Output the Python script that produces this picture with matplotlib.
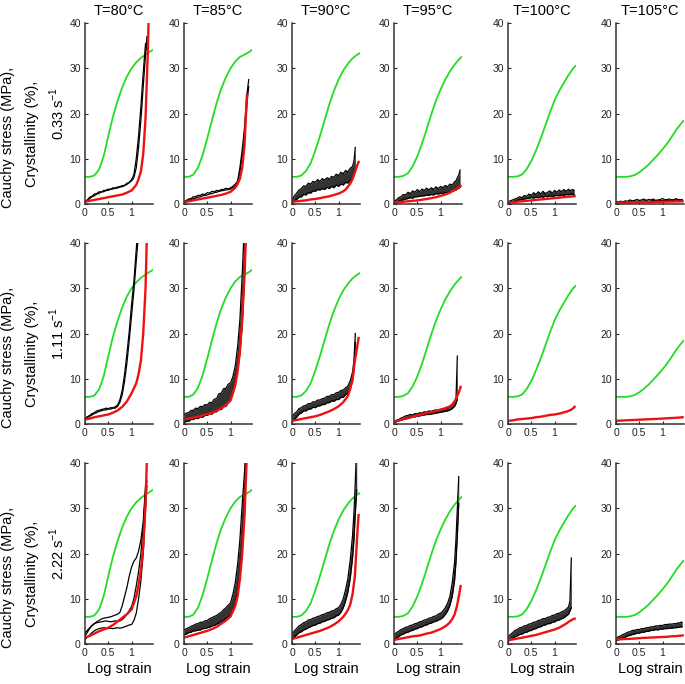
import matplotlib
matplotlib.use('Agg')
from matplotlib import pyplot as plt

nan = float('nan')

plt.rcParams['font.family'] = ['Liberation Sans', 'DejaVu Sans']
plt.rcParams['mathtext.fontset'] = 'custom'
plt.rcParams['mathtext.rm'] = 'Liberation Sans'

# temperatures (columns) and strain rates (rows)
temperatures = [80, 85, 90, 95, 100, 105]
rates = ['0.33', '1.11', '2.22']

# crystallinity (%), green, one per temperature
green_strain = [0, 0.1, 0.2, 0.3, 0.4, 0.5, 0.6, 0.7, 0.8, 0.9, 1.0, 1.1, 1.2, 1.3, 1.4, 1.45]
cryst_80 = [6.0, 6.0, 6.3, 7.6, 10.5, 15.0, 19.3, 22.8, 25.8, 28.2, 30.0, 31.3, 32.3, 33.0, 33.7, 34.0]
cryst_85 = [6.0, 6.0, 6.5, 8.0, 10.8, 14.5, 18.5, 22.3, 25.5, 28.0, 30.0, 31.5, 32.5, 33.0, 33.6, 34.0]
cryst_90 = [6.0, 6.0, 6.3, 7.3, 9.0, 11.8, 15.0, 18.5, 22.0, 25.0, 27.5, 29.5, 31.0, 32.2, 33.0, 33.3]
cryst_95 = [6.0, 6.0, 6.2, 6.8, 8.3, 10.5, 13.3, 16.5, 19.8, 22.8, 25.3, 27.5, 29.3, 30.8, 32.0, 32.5]
cryst_100 = [6.0, 6.0, 6.1, 6.5, 7.7, 9.5, 11.8, 14.4, 17.3, 20.2, 22.9, 25.0, 26.8, 28.5, 30.0, 30.5]
cryst_105 = [6.0, 6.0, 6.0, 6.1, 6.4, 7.0, 7.8, 8.7, 9.8, 10.9, 12.1, 13.4, 14.9, 16.5, 17.8, 18.4]
crystallinity = [cryst_80, cryst_85, cryst_90, cryst_95, cryst_100, cryst_105]

# model Cauchy stress (MPa), red
model_strain = [0, 0.1, 0.2, 0.3, 0.4, 0.5, 0.6, 0.7, 0.8, 0.9, 1.0, 1.1, 1.15, 1.2, 1.25, 1.3, 1.35, 1.4, 1.43]
model_033 = [
    [0.5, 0.7, 0.9, 1.1, 1.3, 1.5, 1.7, 1.9, 2.1, 2.5, 3.0, 4.2, 5.5, 7.2, 11.0, 19.0, 34.0, 55.0, nan],
    [0.4, 0.6, 0.8, 1.0, 1.2, 1.4, 1.6, 1.8, 2.0, 2.3, 2.7, 3.6, 4.4, 5.6, 8.0, 13.0, 24.0, nan, nan],
    [0.5, 0.6, 0.7, 0.8, 1.0, 1.1, 1.3, 1.5, 1.7, 2.0, 2.3, 2.8, 3.2, 3.8, 4.5, 5.5, 7.0, 8.5, 9.3],
    [0.3, 0.4, 0.5, 0.6, 0.7, 0.8, 0.95, 1.1, 1.3, 1.5, 1.8, 2.1, 2.3, 2.5, 2.8, 3.1, 3.4, 3.8, 4.0],
    [0.3, 0.4, 0.5, 0.6, 0.7, 0.8, 0.9, 1.0, 1.1, 1.2, 1.3, 1.4, 1.45, 1.5, 1.55, 1.6, 1.65, 1.7, 1.75],
    [0.3, 0.32, 0.34, 0.36, 0.38, 0.4, 0.42, 0.44, 0.46, 0.48, 0.5, 0.52, 0.53, 0.54, 0.55, 0.56, 0.57, 0.58, 0.59],
]
model_111 = [
    [1.0, 1.2, 1.5, 1.7, 1.9, 2.1, 2.5, 3.0, 3.8, 5.0, 6.8, 9.0, 11.0, 14.0, 20.0, 30.0, 50.0, nan, nan],
    [1.0, 1.2, 1.4, 1.6, 1.9, 2.2, 2.5, 2.9, 3.5, 4.2, 5.2, 8.5, 11.5, 16.0, 23.0, 33.0, 48.0, nan, nan],
    [0.7, 0.9, 1.1, 1.3, 1.5, 1.7, 2.0, 2.4, 2.8, 3.3, 3.9, 4.8, 5.5, 6.2, 7.8, 9.8, 14.0, 17.0, 19.0],
    [0.5, 0.8, 1.1, 1.3, 1.6, 1.9, 2.1, 2.4, 2.6, 2.9, 3.2, 3.5, 3.7, 3.9, 4.3, 5.0, 6.0, 7.2, 8.2],
    [0.7, 0.8, 1.0, 1.1, 1.2, 1.3, 1.5, 1.6, 1.8, 2.0, 2.1, 2.3, 2.4, 2.6, 2.7, 2.9, 3.1, 3.5, 3.8],
    [0.7, 0.75, 0.8, 0.85, 0.9, 0.95, 1.0, 1.05, 1.1, 1.15, 1.2, 1.25, 1.3, 1.32, 1.35, 1.38, 1.42, 1.46, 1.5],
]
model_222 = [
    [1.4, 1.8, 2.3, 2.8, 3.2, 3.6, 4.2, 5.0, 5.8, 6.6, 7.6, 10.5, 13.0, 16.4, 21.5, 31.0, 48.0, nan, nan],
    [1.4, 1.7, 2.0, 2.3, 2.6, 2.9, 3.3, 3.8, 4.5, 5.2, 6.1, 8.4, 10.5, 14.3, 20.0, 28.5, 42.0, nan, nan],
    [1.1, 1.4, 1.7, 2.0, 2.3, 2.6, 2.9, 3.3, 3.7, 4.3, 5.0, 6.0, 6.7, 7.5, 8.7, 11.0, 15.0, 24.0, 28.5],
    [0.9, 1.1, 1.3, 1.5, 1.7, 1.8, 2.0, 2.3, 2.5, 2.9, 3.3, 3.9, 4.3, 4.8, 5.5, 6.5, 8.3, 11.0, 12.8],
    [0.9, 1.0, 1.2, 1.4, 1.6, 1.8, 2.0, 2.3, 2.6, 2.9, 3.2, 3.6, 3.9, 4.2, 4.5, 4.9, 5.2, 5.5, 5.6],
    [1.0, 1.05, 1.1, 1.15, 1.2, 1.3, 1.35, 1.4, 1.45, 1.5, 1.55, 1.6, 1.65, 1.7, 1.72, 1.75, 1.8, 1.85, 1.9],
]

# experimental Cauchy stress (MPa), black
exp_strain = [0.00, 0.05, 0.10, 0.15, 0.20, 0.25, 0.30, 0.35, 0.40, 0.45, 0.50, 0.55, 0.60, 0.65, 0.70, 0.75,
              0.80, 0.85, 0.90, 0.95, 1.00, 1.05, 1.10, 1.15, 1.20, 1.25, 1.30, 1.33, 1.36, 1.39, 1.42]
exp_033 = [
    [[0.5, 0.9, 1.5, 1.7, 2.2, 2.3, 2.7, 2.6, 3.0, 2.9, 3.3, 3.2, 3.6, 3.4, 3.8, 3.7, 4.1, 4.0, 4.6, 4.7, 5.4, 6.5, 10.0, 15.0, 21.5, 29.0, 35.5, 34.0, nan, nan, nan],
     [0.4, 0.8, 1.2, 1.6, 1.8, 2.2, 2.3, 2.7, 2.7, 3.1, 3.0, 3.3, 3.3, 3.6, 3.5, 3.9, 3.8, 4.2, 4.3, 4.8, 5.1, 5.8, 8.0, 12.5, 18.5, 26.0, 33.0, 37.0, nan, nan, nan]],
    [[0.5, 0.8, 1.1, 1.2, 1.6, 1.6, 1.9, 1.9, 2.2, 2.1, 2.5, 2.4, 2.8, 2.7, 3.0, 2.9, 3.2, 3.2, 3.5, 3.3, 3.6, 3.9, 4.4, 5.0, 8.0, 12.0, 17.0, 21.5, 25.0, 27.5, nan],
     [0.4, 0.6, 0.8, 1.0, 1.2, 1.3, 1.5, 1.6, 1.8, 1.9, 2.0, 2.2, 2.3, 2.5, 2.6, 2.8, 2.9, 3.0, 3.1, 3.2, 3.3, 3.6, 4.0, 4.6, 7.0, 10.5, 15.0, 19.0, 23.0, 26.0, nan]],
    [[0.8, 1.8, 2.4, 3.1, 3.4, 4.0, 3.9, 4.6, 4.4, 5.0, 4.8, 5.4, 5.0, 5.6, 5.3, 5.8, 5.5, 6.1, 5.9, 6.6, 6.3, 7.0, 6.7, 7.4, 7.1, 7.9, 8.3, 9.5, 12.5, nan, nan],
     [0.3, 0.7, 1.0, 1.5, 1.6, 2.1, 2.0, 2.5, 2.4, 2.9, 2.8, 3.2, 3.1, 3.4, 3.2, 3.7, 3.4, 3.9, 3.6, 4.2, 3.9, 4.4, 4.2, 4.8, 4.6, 5.3, 5.6, 6.4, 7.5, nan, nan]],
    [[0.6, 0.9, 1.4, 1.6, 2.1, 2.0, 2.6, 2.3, 2.9, 2.6, 3.2, 2.7, 3.3, 3.0, 3.5, 3.1, 3.6, 3.2, 3.8, 3.4, 3.9, 3.6, 4.1, 3.8, 4.4, 4.2, 4.9, 5.1, 5.8, 6.4, 7.5],
     [0.2, 0.4, 0.6, 0.8, 0.9, 1.1, 1.2, 1.4, 1.3, 1.6, 1.6, 1.7, 1.8, 1.8, 2.0, 1.9, 2.1, 2.0, 2.3, 2.2, 2.4, 2.3, 2.6, 2.5, 2.7, 2.8, 3.0, 3.1, 3.3, 3.5, 3.7]],
    [[0.5, 0.7, 0.9, 1.1, 1.3, 1.6, 1.4, 1.9, 1.7, 2.2, 1.9, 2.5, 2.1, 2.7, 2.2, 2.8, 2.3, 2.6, 2.9, 2.4, 3.0, 2.6, 3.1, 2.7, 3.2, 2.8, 3.3, 2.9, 3.1, 3.2, 3.0],
     [0.2, 0.3, 0.5, 0.6, 0.8, 0.9, 1.0, 1.1, 1.2, 1.3, 1.4, 1.3, 1.5, 1.4, 1.6, 1.5, 1.7, 1.6, 1.8, 1.7, 1.8, 1.9, 1.8, 2.0, 1.9, 2.1, 2.0, 2.1, 2.2, 2.1, 2.2]],
    [[0.4, 0.5, 0.6, 0.5, 0.7, 0.6, 0.9, 0.7, 0.8, 1.0, 0.8, 0.9, 1.1, 0.8, 1.0, 0.9, 1.1, 0.8, 0.9, 1.0, 1.2, 0.9, 1.0, 1.1, 0.9, 1.0, 1.2, 0.9, 1.0, 0.9, 1.0],
     [0.3, 0.4, 0.4, 0.5, 0.4, 0.5, 0.6, 0.5, 0.6, 0.6, 0.7, 0.6, 0.7, 0.7, 0.6, 0.7, 0.8, 0.7, 0.7, 0.8, 0.7, 0.8, 0.8, 0.7, 0.8, 0.8, 0.9, 0.8, 0.8, 0.9, 0.8]],
]
exp_111 = [
    [[1.3, 1.6, 1.9, 2.3, 2.5, 2.9, 3.0, 3.2, 3.3, 3.5, 3.4, 3.6, 3.6, 3.8, 4.2, 5.4, 7.5, 11.0, 15.5, 20.5, 26.5, 31.5, 38.5, 45.0, nan, nan, nan, nan, nan, nan, nan],
     [1.0, 1.3, 1.7, 2.0, 2.3, 2.5, 2.8, 2.9, 3.1, 3.1, 3.3, 3.3, 3.5, 3.5, 3.9, 4.8, 6.5, 9.5, 13.5, 18.5, 24.0, 29.5, 36.0, 42.0, nan, nan, nan, nan, nan, nan, nan]],
    [[2.0, 2.4, 2.5, 3.0, 3.0, 3.5, 3.4, 3.9, 3.8, 4.3, 4.2, 4.8, 4.7, 5.5, 5.6, 6.7, 6.8, 7.8, 7.9, 8.8, 9.1, 10.5, 12.8, 17.0, 23.0, 33.0, 45.0, nan, nan, nan, nan],
     [0.3, 0.6, 0.6, 1.0, 1.0, 1.3, 1.2, 1.6, 1.5, 1.9, 1.9, 2.3, 2.2, 2.7, 2.7, 3.2, 3.2, 3.8, 3.9, 4.7, 5.3, 6.8, 9.0, 12.0, 15.5, 22.0, 33.0, 42.0, nan, nan, nan]],
    [[1.5, 2.3, 2.7, 3.4, 3.6, 4.0, 4.1, 4.5, 4.5, 4.9, 4.9, 5.3, 5.3, 5.6, 5.7, 6.1, 6.1, 6.5, 6.5, 6.9, 7.0, 7.4, 7.5, 8.0, 8.4, 9.5, 11.5, 14.0, 20.0, nan, nan],
     [0.6, 1.1, 1.5, 2.2, 2.4, 2.9, 2.9, 3.3, 3.3, 3.7, 3.6, 4.0, 4.0, 4.3, 4.3, 4.7, 4.7, 5.1, 5.0, 5.4, 5.4, 5.9, 5.9, 6.5, 6.7, 7.8, 9.5, 12.0, 18.0, nan, nan]],
    [[0.6, 0.8, 1.0, 1.3, 1.5, 1.8, 1.9, 2.1, 2.0, 2.3, 2.2, 2.5, 2.4, 2.7, 2.6, 2.9, 2.8, 3.0, 3.1, 2.9, 3.2, 3.3, 3.4, 3.5, 3.7, 4.0, 4.6, 5.2, 15.0, nan, nan],
     [0.3, 0.5, 0.7, 0.8, 1.0, 1.1, 1.3, 1.4, 1.5, 1.6, 1.7, 1.8, 1.9, 2.0, 2.1, 2.1, 2.2, 2.3, 2.4, 2.5, 2.6, 2.7, 2.8, 2.9, 3.1, 3.4, 3.9, 4.5, 5.5, nan, nan]],
    [],
    [],
]
exp_222 = [
    [[1.7, 2.6, 3.4, 4.0, 4.5, 4.9, 5.2, 5.5, 5.7, 5.8, 5.9, 6.0, 6.2, 6.4, 6.6, 7.0, 8.5, 10.5, 12.5, 15.0, 17.0, 18.3, 19.0, 20.5, 23.0, 27.0, 35.0, nan, nan, nan, nan],
     [2.4, 3.0, 3.6, 4.1, 4.5, 4.7, 4.8, 4.9, 5.0, 5.1, 5.0, 4.9, 5.0, 5.1, 5.0, 5.1, 5.4, 5.9, 6.6, 7.4, 8.3, 10.0, 12.8, 16.0, 20.0, 26.0, 34.0, 36.0, nan, nan, nan],
     [1.0, 1.5, 2.0, 2.5, 2.9, 3.2, 3.4, 3.5, 3.6, 3.5, 3.4, 3.5, 3.4, 3.5, 3.6, 3.5, 3.6, 3.8, 4.0, 4.2, 4.3, 5.2, 6.8, 10.0, 14.0, 20.0, 30.0, 35.0, nan, nan, nan]],
    [[3.0, 3.4, 3.6, 3.9, 4.1, 4.4, 4.5, 4.8, 4.8, 5.1, 5.2, 5.6, 5.8, 6.1, 6.3, 6.7, 7.0, 7.6, 8.0, 8.6, 9.1, 11.0, 13.5, 17.5, 23.0, 31.0, 38.0, 45.0, nan, nan, nan],
     [2.0, 2.2, 2.5, 2.6, 2.9, 2.9, 3.1, 3.1, 3.4, 3.4, 3.6, 3.7, 4.0, 4.1, 4.4, 4.6, 5.0, 5.2, 5.7, 6.0, 6.5, 7.5, 9.0, 11.5, 15.0, 22.0, 32.0, 40.0, nan, nan, nan]],
    [[2.2, 2.9, 3.4, 4.0, 4.3, 4.7, 4.9, 5.3, 5.4, 5.7, 5.8, 6.1, 6.2, 6.5, 6.6, 6.9, 7.0, 7.3, 7.4, 7.8, 8.0, 8.8, 10.0, 12.0, 14.5, 18.5, 24.0, 29.0, 36.0, 45.0, nan],
     [1.2, 1.6, 2.0, 2.5, 2.7, 3.1, 3.3, 3.6, 3.8, 4.1, 4.2, 4.5, 4.6, 4.9, 5.0, 5.3, 5.4, 5.7, 5.8, 6.2, 6.4, 7.0, 8.0, 9.5, 11.5, 14.5, 19.0, 23.0, 29.0, 34.0, nan]],
    [[2.0, 2.5, 2.8, 3.2, 3.4, 3.7, 3.8, 4.1, 4.2, 4.5, 4.6, 4.9, 5.0, 5.3, 5.4, 5.7, 5.8, 6.1, 6.2, 6.6, 6.8, 7.3, 8.0, 9.0, 10.5, 13.5, 18.0, 23.0, 30.0, 37.0, nan],
     [1.0, 1.3, 1.6, 2.0, 2.2, 2.5, 2.6, 2.9, 3.0, 3.3, 3.4, 3.7, 3.8, 4.1, 4.2, 4.5, 4.6, 4.9, 5.0, 5.3, 5.5, 5.9, 6.5, 7.3, 8.5, 10.5, 14.0, 18.0, 24.0, 31.0, nan]],
    [[1.5, 2.1, 2.5, 3.0, 3.2, 3.6, 3.7, 4.0, 4.1, 4.4, 4.5, 4.8, 4.9, 5.2, 5.3, 5.6, 5.6, 5.9, 6.0, 6.3, 6.4, 6.7, 6.8, 7.1, 7.3, 7.7, 8.2, 9.5, 19.0, nan, nan],
     [0.6, 0.9, 1.2, 1.6, 1.8, 2.1, 2.2, 2.5, 2.6, 2.9, 3.0, 3.3, 3.4, 3.7, 3.8, 4.1, 4.2, 4.5, 4.5, 4.8, 4.9, 5.2, 5.3, 5.6, 5.8, 6.2, 6.6, 7.3, 8.0, nan, nan]],
    [[1.2, 1.6, 1.8, 2.1, 2.3, 2.6, 2.7, 3.0, 3.0, 3.2, 3.2, 3.4, 3.4, 3.6, 3.6, 3.8, 3.8, 4.0, 4.0, 4.1, 4.1, 4.3, 4.3, 4.4, 4.4, 4.5, 4.5, 4.7, 4.6, 4.8, 4.8],
     [0.7, 0.9, 1.1, 1.4, 1.5, 1.8, 1.9, 2.1, 2.2, 2.4, 2.4, 2.6, 2.6, 2.8, 2.8, 3.0, 3.0, 3.2, 3.1, 3.3, 3.3, 3.4, 3.4, 3.5, 3.5, 3.6, 3.6, 3.7, 3.7, 3.8, 3.8]],
]

models = [model_033, model_111, model_222]
experiments = [exp_033, exp_111, exp_222]

# panels where the black curves form a dense band
band_panels = [(0, 2), (0, 3), (0, 4), (1, 1), (1, 2), (1, 3),
               (2, 1), (2, 2), (2, 3), (2, 4), (2, 5)]

W, H = 685, 684
fig = plt.figure(figsize=(6.85, 6.84), dpi=100)
col_left = [85, 184, 292, 394, 508, 616]
row_top = [23, 243, 463]
ax_w, ax_h = 68, 181

for r in range(3):
    for c in range(6):
        ax = fig.add_axes([col_left[c] / W, 1 - (row_top[r] + ax_h) / H, ax_w / W, ax_h / H])
        ax.plot(green_strain, crystallinity[c], color='#22dd22', lw=1.3)
        curves = experiments[r][c]
        if (r, c) in band_panels and len(curves) == 2:
            ax.fill_between(exp_strain, curves[1], curves[0], color='black', alpha=0.8, lw=0)
        for y in curves:
            ax.plot(exp_strain, y, color='black', lw=0.9)
        ax.plot(model_strain, models[r][c], color='#ee1111', lw=1.7)

        ax.set_xlim(0, 1.46)
        ax.set_ylim(0, 40)
        ax.set_xticks([0, 0.5, 1])
        ax.set_xticklabels(['0', '0.5', '1'])
        ax.set_yticks([0, 10, 20, 30, 40])
        ax.tick_params(direction='in', length=2.5, width=0.8, labelsize=7.5, pad=3, colors='#222222')
        for s in ['top', 'right']:
            ax.spines[s].set_visible(False)
        for s in ['left', 'bottom']:
            ax.spines[s].set_linewidth(1.1)
            ax.spines[s].set_color('#333333')
        if r == 0:
            ax.set_title('T={}°C'.format(temperatures[c]), fontsize=10.5, pad=6)
        if r == 2:
            ax.set_xlabel('Log strain', fontsize=10.5, labelpad=3)

# row labels
for r in range(3):
    off = r * 220
    fig.text(8 / W, 1 - (137 + off) / H, 'Cauchy stress (MPa),', rotation=90,
             ha='center', va='center', fontsize=10.5)
    fig.text(32 / W, 1 - (134 + off) / H, 'Crystallinity (%),', rotation=90,
             ha='center', va='center', fontsize=10.5)
    fig.text(57 / W, 1 - (113 + off) / H, rates[r] + r' s$^{\mathregular{-1}}$', rotation=90,
             ha='center', va='center', fontsize=10.5)

plt.savefig('out.png', dpi=100)
